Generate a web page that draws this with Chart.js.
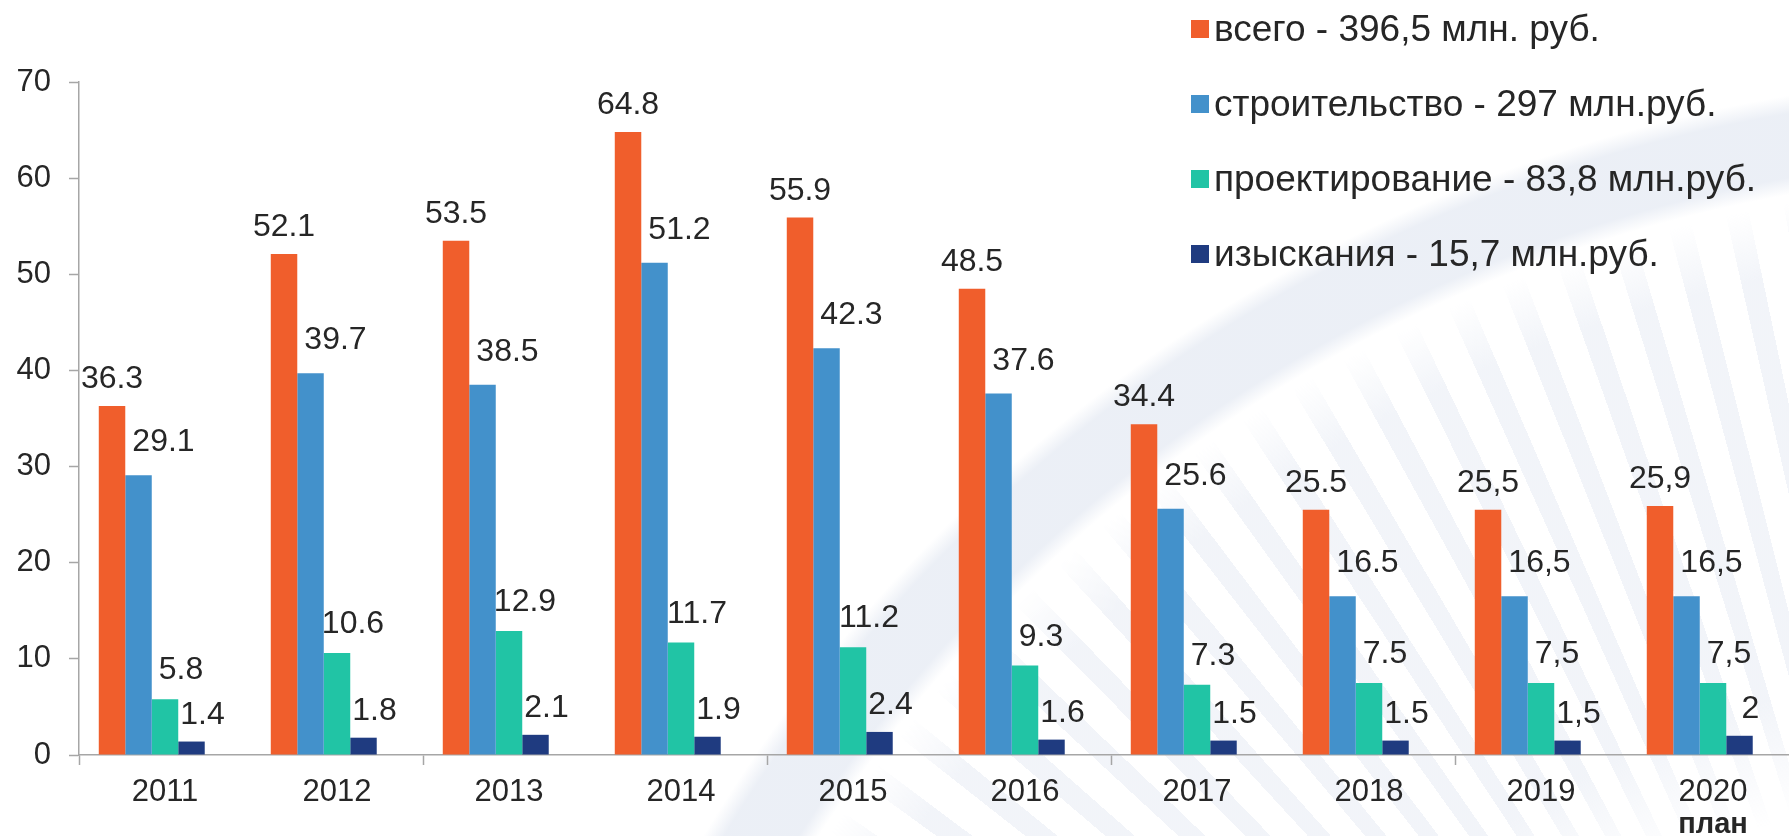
<!DOCTYPE html>
<html lang="ru">
<head>
<meta charset="utf-8">
<title>Финансирование по годам</title>
<script src="https://cdn.jsdelivr.net/npm/chart.js@4.4.1/dist/chart.umd.min.js"></script>
<style>
  html, body { margin: 0; padding: 0; background: #fff; overflow: hidden; }
  #lienzo {
    position: relative; width: 1789px; height: 836px; overflow: hidden;
    font-family: "Liberation Sans", Arial, sans-serif; color: #262626;
  }
  /* fondo: arco claro y rayas del logotipo */
  #fondo {
    position: absolute; left: 0; top: 0; width: 1789px; height: 836px;
    background: radial-gradient(circle at 2047px 1640px,
      rgba(255,255,255,0) 1468px, rgba(229,234,243,0.75) 1485px,
      rgba(229,234,243,0.75) 1548px, rgba(255,255,255,0) 1566px);
  }
  #rayas {
    position: absolute; left: 0; top: 0; width: 1789px; height: 836px;
    background: repeating-conic-gradient(from 0deg at 2047px 1640px,
      rgba(222,228,240,0.4) 0deg 0.9deg, rgba(255,255,255,0) 0.9deg 2.3deg);
    -webkit-mask-image: radial-gradient(circle at 2047px 1640px, transparent 860px, #000 980px, #000 1390px, transparent 1460px);
    mask-image: radial-gradient(circle at 2047px 1640px, transparent 860px, #000 980px, #000 1390px, transparent 1460px);
  }
  #caja { position: absolute; left: 0; top: 0; width: 1800px; height: 836px; }
  #leyenda { position: absolute; left: 1191px; top: -9px; font-size: 37px; }
  .fila { height: 75px; display: flex; align-items: center; white-space: nowrap; }
  .cuadro { width: 18px; height: 18px; margin-right: 5px; flex: none; }
</style>
</head>
<body>
<div id="lienzo">
  <div id="fondo"></div>
  <div id="rayas"></div>
  <div id="caja"><canvas id="graficoInversion"></canvas></div>
  <div id="leyenda"></div>
</div>
<script>
// Años (categorías)
var anios = ['2011', '2012', '2013', '2014', '2015', '2016', '2017', '2018', '2019', '2020'];
var notaUltimoAnio = 'план';
// Años cuyas etiquetas usan coma decimal
var aniosConComa = ['2019', '2020'];

// Series, млн. руб.
var vsego = [36.3, 52.1, 53.5, 64.8, 55.9, 48.5, 34.4, 25.5, 25.5, 25.9];
var stroitelstvo = [29.1, 39.7, 38.5, 51.2, 42.3, 37.6, 25.6, 16.5, 16.5, 16.5];
var proektirovanie = [5.8, 10.6, 12.9, 11.7, 11.2, 9.3, 7.3, 7.5, 7.5, 7.5];
var izyskaniya = [1.4, 1.8, 2.1, 1.9, 2.4, 1.6, 1.5, 1.5, 1.5, 2];

var nombres = ['всего - 396,5 млн. руб.', 'строительство - 297 млн.руб.', 'проектирование - 83,8 млн.руб.', 'изыскания - 15,7 млн.руб.'];
var colores = ['#F05E2C', '#4391CB', '#21C4A5', '#1F3B80'];

// Eje Y
var ejeMin = 0;
var ejeMax = 70;
var ejePaso = 10;

var fuente = '"Liberation Sans", Arial, sans-serif';
var colorTexto = '#262626';
var colorEje = '#a6a6a6';

// Leyenda en HTML
var leyenda = document.getElementById('leyenda');
nombres.forEach(function (n, i) {
    var fila = document.createElement('div');
    fila.className = 'fila';
    var c = document.createElement('span');
    c.className = 'cuadro';
    c.style.background = colores[i];
    var t = document.createElement('span');
    t.textContent = n;
    fila.appendChild(c);
    fila.appendChild(t);
    leyenda.appendChild(fila);
});

// Etiquetas de valores encima de las barras
var desplX = [0, 25, 16, 11];
var hueco = [18, 24, 20, 18];
var etiquetasPlugin = {
    id: 'etiquetas',
    afterDatasetsDraw: function (chart) {
        var ctx = chart.ctx;
        ctx.save();
        ctx.font = '32px ' + fuente;
        ctx.fillStyle = colorTexto;
        ctx.textAlign = 'center';
        ctx.textBaseline = 'alphabetic';
        for (var d = 0; d < 4; d++) {
            var meta = chart.getDatasetMeta(d);
            meta.data.forEach(function (barra, i) {
                var texto = String(chart.data.datasets[d].data[i]);
                if (aniosConComa.indexOf(anios[i]) >= 0) texto = texto.replace('.', ',');
                ctx.fillText(texto, barra.x + desplX[d], barra.y - hueco[d]);
            });
        }
        // nota bajo el último año
        var ejeX = chart.scales.x;
        ctx.font = 'bold 29px ' + fuente;
        ctx.fillText(notaUltimoAnio, ejeX.getPixelForTick(anios.length - 1), 833);
        ctx.restore();
    }
};

var ctx = document.getElementById('graficoInversion').getContext('2d');

var data = {
    labels: anios,
    datasets: [
        { label: nombres[0], data: vsego, backgroundColor: colores[0] },
        { label: nombres[1], data: stroitelstvo, backgroundColor: colores[1] },
        { label: nombres[2], data: proektirovanie, backgroundColor: colores[2] },
        { label: nombres[3], data: izyskaniya, backgroundColor: colores[3] },
        // hueco vacío: el grupo de barras deja sitio a la derecha
        { label: '', data: [], backgroundColor: 'rgba(0,0,0,0)' }
    ]
};

var options = {
    responsive: true,
    maintainAspectRatio: false,
    animation: false,
    layout: { padding: { top: 82, right: 1, bottom: 0, left: 0 } },
    datasets: {
        bar: { categoryPercentage: 0.77, barPercentage: 1, borderWidth: 0 }
    },
    plugins: {
        legend: { display: false },
        tooltip: { enabled: false }
    },
    scales: {
        x: {
            afterFit: function (s) { s.height = 81; },
            border: { color: colorEje, width: 1.5 },
            grid: {
                offset: true,
                drawOnChartArea: false,
                tickLength: 10,
                tickWidth: 1.5,
                tickColor: function (c) { return c.index % 2 === 0 ? colorEje : 'rgba(0,0,0,0)'; }
            },
            ticks: { color: colorTexto, font: { family: fuente, size: 31 }, padding: 9, maxRotation: 0 }
        },
        y: {
            min: ejeMin,
            max: ejeMax,
            afterFit: function (s) { s.width = 79; },
            border: { color: colorEje, width: 1.5 },
            grid: { drawOnChartArea: false, tickLength: 10, tickColor: colorEje, tickWidth: 1.5 },
            ticks: { stepSize: ejePaso, color: colorTexto, font: { family: fuente, size: 31 }, padding: 18 }
        }
    }
};

var graficoInversion = new Chart(ctx, {
    type: 'bar',
    data: data,
    options: options,
    plugins: [etiquetasPlugin]
});
</script>
</body>
</html>
